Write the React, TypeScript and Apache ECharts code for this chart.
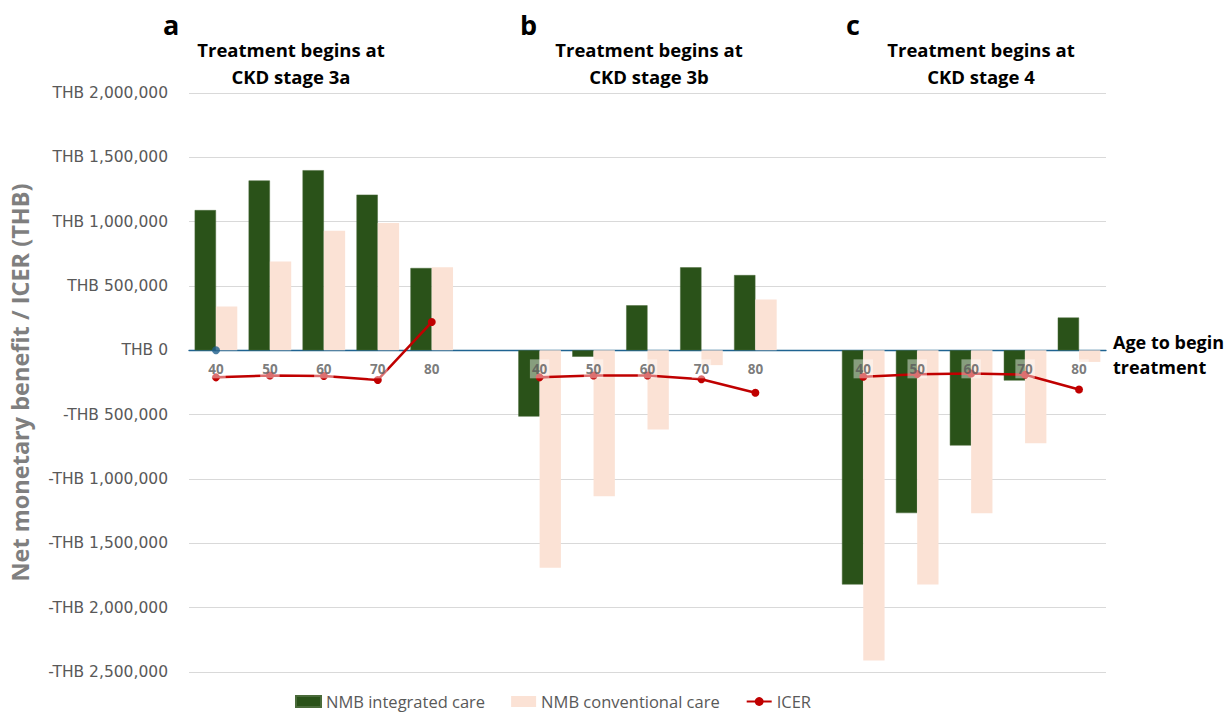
import React, { useEffect, useRef } from "react";
import * as echarts from "echarts";

const groups = ["a", "b", "c"];
const ages = ["40", "50", "60", "70", "80"];
const groupTitles = [
  "Treatment begins at\nCKD stage 3a",
  "Treatment begins at\nCKD stage 3b",
  "Treatment begins at\nCKD stage 4",
];
const yTicks = [-2500000, -2000000, -1500000, -1000000, -500000, 0, 500000, 1000000, 1500000, 2000000];

const nmbIntegrated = [
  [1090000, 1320000, 1400000, 1210000, 640000],
  [-515000, -50000, 350000, 645000, 585000],
  [-1820000, -1265000, -740000, -235000, 255000],
];
const nmbConventional = [
  [340000, 690000, 930000, 990000, 645000],
  [-1690000, -1135000, -615000, -115000, 395000],
  [-2410000, -1820000, -1267000, -723000, -90000],
];
const icer = [
  [-210000, -195000, -200000, -230000, 220000],
  [-210000, -195000, -195000, -225000, -330000],
  [-205000, -185000, -180000, -190000, -305000],
];
const zeroMarker = [0]; // blue point at group a, age 40

const FONT = "'Open Sans', 'Noto Sans', sans-serif";
const AXFONT = "'DejaVu Sans', sans-serif";

function buildCategories() {
  const cats: string[] = [];
  groups.forEach((g, gi) => {
    ages.forEach((a) => cats.push(g + "|" + a));
    if (gi < groups.length - 1) cats.push(g + "|gap");
  });
  return cats;
}

function flatten(arr: number[][]) {
  const out: (number | string)[] = [];
  arr.forEach((grp, gi) => {
    grp.forEach((v) => out.push(v));
    if (gi < arr.length - 1) out.push("-");
  });
  return out;
}

function fmtTHB(v: number) {
  const abs = Math.abs(v).toLocaleString("en-US");
  return (v < 0 ? "-" : "") + "THB " + abs;
}

export default function App() {
  const ref = useRef<HTMLDivElement>(null);
  useEffect(() => {
    document.body.style.margin = "0";
    document.body.style.overflow = "hidden";
    if (!ref.current) return;
    const chart = echarts.init(ref.current, undefined, { renderer: "svg" });
    const categories = buildCategories();
    const markerData: (number | string)[] = categories.map(() => "-");
    markerData[0] = zeroMarker[0];
    const labelData: (number | string)[] = categories.map((c) =>
      c.endsWith("|gap") ? "-" : 0
    );

    const titleX = [291, 649, 981];
    const letterX = [172, 529, 855];

    const graphics: any[] = [];
    groups.forEach((g, i) => {
      graphics.push({
        type: "text",
        left: letterX[i] - 9,
        top: 11,
        style: { text: g, font: "bold 27px " + FONT, fill: "#000" },
      });
      graphics.push({
        type: "text",
        x: titleX[i],
        y: 36,
        style: {
          text: groupTitles[i],
          font: "bold 18.5px " + FONT,
          fill: "#000",
          align: "center",
          lineHeight: 27,
        },
      });
    });
    graphics.push({
      type: "text",
      x: 1113,
      y: 329,
      style: {
        text: "Age to begin\ntreatment",
        font: "bold 18px " + FONT,
        fill: "#000",
        align: "left",
        lineHeight: 25,
      },
    });

    chart.setOption({
      animation: false,
      textStyle: { fontFamily: FONT },
      grid: { left: 183, right: 124, top: 93, bottom: 41, containLabel: false },
      legend: {
        left: 295,
        top: 693,
        itemWidth: 25,
        itemHeight: 11,
        itemGap: 26,
        padding: 0,
        textStyle: { fontSize: 16.5, color: "#595959", fontFamily: FONT },
        data: [
          { name: "NMB integrated care", icon: "rect" },
          { name: "NMB conventional care", icon: "rect" },
          { name: "ICER" },
        ],
      },
      xAxis: {
        type: "category",
        data: categories,
        axisLine: { onZero: true, lineStyle: { color: "#1f6391", width: 1.3 } },
        axisTick: { show: false },
        axisLabel: { show: false },
        splitLine: { show: false },
      },
      yAxis: {
        type: "value",
        min: yTicks[0],
        max: yTicks[yTicks.length - 1],
        interval: 500000,
        name: "Net monetary benefit / ICER (THB)",
        nameLocation: "middle",
        nameGap: 157,
        nameTextStyle: { fontSize: 23.5, fontWeight: "bold", color: "#7f7f7f", fontFamily: FONT },
        axisLine: { show: false },
        axisTick: { show: false },
        axisLabel: { fontSize: 15.5, color: "#595959", margin: 21, formatter: fmtTHB, fontFamily: AXFONT },
        splitLine: { lineStyle: { color: "#d9d9d9", width: 1 } },
      },
      series: [
        {
          name: "NMB integrated care",
          type: "bar",
          data: flatten(nmbIntegrated),
          barGap: "0%",
          barCategoryGap: "21%",
          itemStyle: { color: "#2a5219", borderColor: "#4a6b3a", borderWidth: 0.5 },
          z: 2,
        },
        {
          name: "NMB conventional care",
          type: "bar",
          data: flatten(nmbConventional),
          barGap: "0%",
          barCategoryGap: "21%",
          itemStyle: { color: "#fbe2d5" },
          z: 2,
        },
        {
          name: "ICER",
          type: "line",
          data: flatten(icer),
          connectNulls: false,
          symbol: "circle",
          symbolSize: 8,
          lineStyle: { color: "#c00000", width: 2.5 },
          itemStyle: { color: "#c00000" },
          z: 4,
        },
        {
          name: "ageLabels",
          type: "scatter",
          data: labelData,
          symbolSize: 0,
          silent: true,
          z: 10,
          label: {
            show: true,
            position: "bottom",
            distance: 9,
            fontSize: 13.5,
            fontWeight: "bold",
            color: "#595959",
            fontFamily: FONT,
            backgroundColor: "rgba(255,255,255,0.55)",
            padding: [3, 2, 2, 2],
            formatter: (p: any) => categories[p.dataIndex].split("|")[1],
          },
        },
        {
          name: "zero",
          type: "scatter",
          data: markerData,
          symbol: "circle",
          symbolSize: 8,
          itemStyle: { color: "#1f5f8b" },
          z: 11,
        },
      ],
      graphic: graphics,
    });
    return () => chart.dispose();
  }, []);
  return <div ref={ref} style={{ width: 1230, height: 713 }} />;
}
